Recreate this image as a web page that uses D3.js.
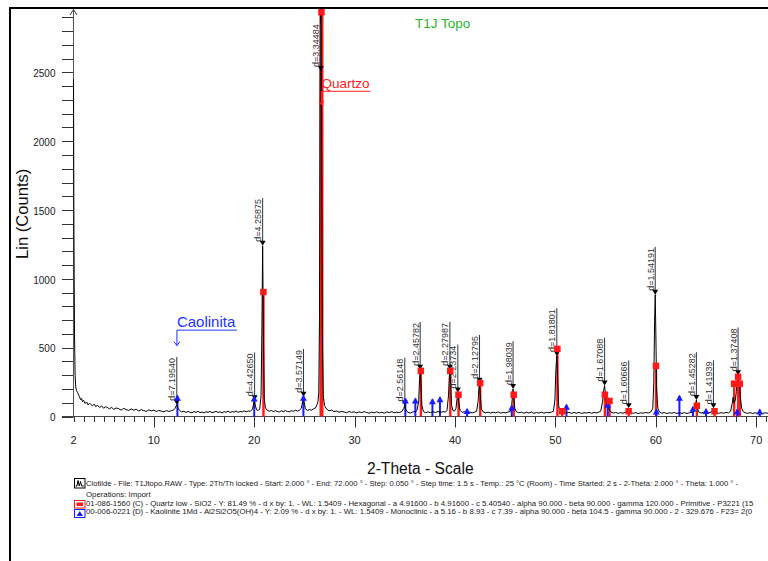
<!DOCTYPE html>
<html>
<head>
<meta charset="utf-8">
<script src="https://cdn.jsdelivr.net/npm/d3@7"></script>
<style>
  body { margin: 0; background: #fff; }
  svg { display: block; font-family: Arial, "Liberation Sans", sans-serif; }
</style>
</head>
<body>
<svg id="chart" width="768" height="561"></svg>
<script>
// ---- data (2-theta in degrees, counts) ----
const scanLowAngle = [
  [2.00, 2450], [2.04, 1400], [2.10, 600], [2.16, 300], [2.22, 215], [2.30, 188], [2.40, 176], [2.50, 158],
  [2.60, 145], [2.70, 122], [2.80, 131], [2.90, 108], [3.00, 118], [3.15, 95], [3.30, 106], [3.45, 84],
  [3.60, 97], [3.75, 86], [3.90, 78], [4.05, 90], [4.20, 72], [4.40, 81], [4.60, 66], [4.80, 77],
  [5.00, 60], [5.20, 71], [5.40, 64], [5.60, 55], [5.80, 67], [6.00, 51], [6.25, 62], [6.50, 56],
  [6.75, 47], [7.00, 59], [7.25, 50], [7.50, 44], [7.75, 55], [8.00, 46], [8.25, 52], [8.50, 40],
  [8.75, 50], [9.00, 43], [9.25, 37], [9.50, 48], [9.75, 41], [10.00, 46], [10.25, 36], [10.50, 44],
  [10.75, 39], [11.00, 34], [11.25, 43], [11.50, 37], [11.75, 42], [11.95, 46], [12.10, 58], [12.20, 75],
  [12.30, 84], [12.40, 62], [12.55, 45], [12.75, 34], [13.00, 38], [13.20, 29], [13.40, 37], [13.60, 31],
  [13.80, 27], [14.00, 36], [14.20, 30], [14.40, 38], [14.60, 28], [14.80, 33], [15.00, 26], [15.20, 35],
  [15.40, 30], [15.60, 37], [15.80, 27], [16.00, 32], [16.20, 38], [16.40, 29], [16.60, 34], [16.80, 26],
  [17.00, 35], [17.20, 31], [17.40, 39], [17.60, 29], [17.80, 36], [18.00, 32], [18.20, 40], [18.40, 30],
  [18.60, 37], [18.80, 33], [19.00, 41], [19.20, 34], [19.40, 40], [19.60, 38], [19.75, 46],
  [19.85, 60], [19.95, 95], [20.03, 115], [20.12, 75], [20.25, 48], [20.40, 44], [20.55, 55], [20.68, 150],
  [20.76, 600], [20.84, 1240], [20.92, 560], [21.00, 130], [21.12, 62], [21.30, 45], [21.50, 38], [21.70, 44],
  [21.90, 35], [22.10, 42], [22.30, 36], [22.50, 33], [22.70, 41], [22.90, 35], [23.10, 43], [23.30, 37],
  [23.50, 34], [23.70, 42], [23.90, 38], [24.10, 45], [24.30, 39], [24.50, 46], [24.70, 60], [24.82, 110],
  [24.90, 140], [24.98, 100], [25.10, 55], [25.30, 44], [25.50, 50], [25.70, 46], [25.90, 56], [26.10, 62],
  [26.25, 85], [26.35, 108], [26.43, 170]
]
const scanQuartzRegion = [
  [26.50, 700], [26.56, 2400], [26.63, 3400], [26.70, 2300], [26.78, 600], [26.88, 150], [27.00, 80],
  [27.20, 55], [27.45, 42], [27.70, 46], [27.95, 36], [28.20, 40], [28.45, 31], [28.70, 37], [28.95, 33],
  [29.20, 27], [29.45, 36], [29.70, 30], [29.95, 34], [30.20, 26], [30.45, 33], [30.70, 28], [30.95, 35],
  [31.20, 29], [31.45, 24], [31.70, 32], [31.95, 27], [32.20, 34], [32.45, 26], [32.70, 31], [32.95, 24],
  [33.20, 33], [33.45, 28], [33.70, 35], [33.95, 27], [34.20, 31], [34.45, 29], [34.70, 36], [34.90, 60],
  [35.00, 80], [35.10, 50], [35.30, 30], [35.55, 25], [35.80, 33], [36.05, 36], [36.22, 45], [36.38, 110],
  [36.46, 260], [36.53, 340], [36.60, 240], [36.70, 80], [36.85, 36], [37.05, 27], [37.30, 34], [37.55, 28],
  [37.80, 35], [38.05, 29], [38.30, 37], [38.55, 30], [38.80, 35], [39.05, 32], [39.20, 45], [39.35, 150],
  [39.43, 290], [39.49, 340], [39.56, 250], [39.66, 80], [39.80, 42], [39.95, 40], [40.10, 60], [40.20, 130],
  [40.28, 175], [40.36, 110], [40.50, 45], [40.70, 30], [40.95, 35], [41.20, 27], [41.45, 33], [41.70, 26],
  [41.95, 32], [42.15, 38], [42.30, 110], [42.38, 210], [42.44, 245], [42.52, 160], [42.62, 55], [42.80, 33],
  [43.05, 26], [43.30, 32], [43.55, 25], [43.80, 31], [44.05, 27], [44.30, 33], [44.55, 24], [44.80, 30],
  [45.05, 27], [45.30, 33], [45.50, 36], [45.65, 80], [45.73, 170], [45.78, 200], [45.86, 140], [45.95, 60],
  [46.10, 35], [46.35, 27], [46.60, 31], [46.85, 24], [47.10, 30], [47.35, 26], [47.60, 32], [47.85, 23]
]
const scanHighAngle = [
  [48.10, 29], [48.35, 25], [48.60, 31], [48.85, 24], [49.10, 30], [49.35, 27], [49.60, 32], [49.80, 38],
  [49.95, 120], [50.05, 350], [50.14, 440], [50.22, 300], [50.32, 80], [50.45, 40], [50.60, 55], [50.70, 45],
  [50.85, 33], [51.10, 26], [51.35, 30], [51.60, 23], [51.85, 29], [52.10, 24], [52.35, 30], [52.60, 22],
  [52.85, 28], [53.10, 25], [53.35, 30], [53.60, 23], [53.85, 29], [54.10, 26], [54.35, 33], [54.52, 40],
  [54.70, 110], [54.80, 190], [54.90, 225], [54.98, 160], [55.10, 95], [55.25, 80], [55.35, 55], [55.50, 34],
  [55.75, 25], [56.00, 29], [56.25, 23], [56.50, 28], [56.75, 24], [57.00, 31], [57.15, 45], [57.25, 60],
  [57.35, 45], [57.50, 29], [57.75, 23], [58.00, 28], [58.25, 22], [58.50, 27], [58.75, 24], [59.00, 29],
  [59.25, 25], [59.50, 33], [59.70, 60], [59.80, 250], [59.88, 700], [59.94, 885], [60.00, 620], [60.08, 200],
  [60.20, 60], [60.35, 33], [60.60, 24], [60.85, 28], [61.10, 22], [61.35, 27], [61.60, 24], [61.85, 29],
  [62.10, 22], [62.35, 27], [62.60, 23], [62.85, 28], [63.10, 22], [63.35, 27], [63.60, 30], [63.85, 40],
  [63.97, 95], [64.04, 120], [64.12, 80], [64.25, 34], [64.50, 25], [64.75, 29], [65.00, 23], [65.25, 28],
  [65.50, 31], [65.65, 45], [65.74, 60], [65.83, 42], [66.00, 29], [66.25, 23], [66.50, 28], [66.75, 24],
  [67.00, 29], [67.25, 27], [67.45, 38], [67.60, 90], [67.70, 140], [67.80, 100], [67.92, 120], [68.02, 180],
  [68.12, 260], [68.19, 300], [68.26, 250], [68.33, 230], [68.42, 140], [68.55, 60], [68.70, 36], [68.90, 27],
  [69.15, 23], [69.40, 28], [69.65, 22], [69.90, 27], [70.15, 23], [70.40, 29], [70.65, 22], [70.90, 27],
  [71.15, 24], [71.40, 28], [71.65, 22], [71.90, 27], [72.00, 25]
]

// 01-086-1560 quartz reference lines
const quartzTheta  = [20.86, 26.64, 36.54, 39.47, 40.29, 42.45, 45.79, 50.14, 50.62, 54.87, 55.33, 57.24, 59.96, 64.03, 65.79, 67.74, 68.14, 68.31]
const quartzCounts = [906, 2950, 333, 333, 160, 245, 160, 493, 40, 160, 115, 40, 370, 80, 40, 240, 290, 240]

// 00-006-0221 kaolinite reference lines
const kaoliniteTheta  = [12.35, 20.00, 24.90, 35.05, 36.05, 37.75, 38.50, 41.20, 45.65, 51.10, 55.20, 60.05, 62.35, 63.70, 65.00, 68.10, 70.35]
const kaoliniteCounts = [150, 145, 150, 130, 130, 125, 140, 55, 80, 85, 100, 50, 150, 70, 55, 50, 50]

// d-spacing peak labels
const dLabelText   = ["d=7.19540", "d=4.42650", "d=4.25875", "d=3.57149", "d=3.34484", "d=2.56148", "d=2.45782", "d=2.27987", "d=2.23734",
                      "d=2.12795", "d=1.98039", "d=1.81801", "d=1.67088", "d=1.60666", "d=1.54191", "d=1.45282", "d=1.41939", "d=1.37408"]
const dLabelTheta  = [12.29, 20.04, 20.84, 24.91, 26.63, 35.00, 36.53, 39.49, 40.28, 42.44, 45.78, 50.14, 54.90, 57.30, 59.94, 64.04, 65.74, 68.19]
const dLabelCounts = [85, 118, 1240, 143, 2510, 80, 340, 340, 175, 245, 200, 440, 225, 60, 885, 120, 60, 300]

const xTickLabels = [2, 10, 20, 30, 40, 50, 60, 70]
const yTickLabels = [0, 500, 1000, 1500, 2000, 2500]

// legend rows as far as they show inside the picture
const legendLines = [
  "Clotilde - File: T1Jtopo.RAW - Type: 2Th/Th locked - Start: 2.000 ° - End: 72.000 ° - Step: 0.050 ° - Step time: 1.5 s - Temp.: 25 °C (Room) - Time Started: 2 s - 2-Theta: 2.000 ° - Theta: 1.000 ° -",
  "Operations: Import",
  "01-086-1560 (C) - Quartz low - SiO2 - Y: 81.49 % - d x by: 1. - WL: 1.5409 - Hexagonal - a 4.91600 - b 4.91600 - c 5.40540 - alpha 90.000 - beta 90.000 - gamma 120.000 - Primitive - P3221 (15",
  "00-006-0221 (D) - Kaolinite 1Md - Al2Si2O5(OH)4 - Y: 2.09 % - d x by: 1. - WL: 1.5409 - Monoclinic - a 5.16 - b 8.93 - c 7.39 - alpha 90.000 - beta 104.5 - gamma 90.000 - 2 - 329.676 - F23=  2(0"
]
const legendWidths = [652, null, null, null]

// ---- scales ----
const svg = d3.select("#chart")
const x = d3.scaleLinear().domain([2, 72]).range([73.5, 776.3])
const y = d3.scaleLinear().domain([0, 2950]).range([416.5, 10.5])
const axisColor = "#333"

svg.append("defs").append("clipPath").attr("id", "plot-clip")
  .append("rect").attr("x", 73).attr("y", 9).attr("width", 700).attr("height", 409)

// frame
svg.append("line").attr("x1", 10).attr("x2", 768).attr("y1", 8).attr("y2", 8).attr("stroke", "#000").attr("stroke-width", 2)
svg.append("line").attr("x1", 10).attr("x2", 10).attr("y1", 7).attr("y2", 561).attr("stroke", "#000").attr("stroke-width", 2)

// ---- axes (labels from d3 axes, tick marks drawn from the same scales) ----
const xAxis = d3.axisBottom(x).tickValues(xTickLabels).tickSize(0).offset(0).tickFormat(d3.format("d"))
const gx = svg.append("g").attr("transform", `translate(0,${y(0)})`).call(xAxis)
gx.select(".domain").remove()
gx.selectAll(".tick text").attr("y", 19.5).attr("fill", "#222")
  .style("font-size", "11px").style("font-family", "Arial, 'Liberation Sans', sans-serif")

const yAxis = d3.axisLeft(y).tickValues(yTickLabels).tickSize(0).offset(0).tickFormat(d3.format("d"))
const gy = svg.append("g").attr("transform", `translate(${x(2)},0)`).call(yAxis)
gy.select(".domain").remove()
gy.selectAll(".tick text").attr("x", -18).attr("dy", "0.48em").attr("fill", "#222")
  .style("font-size", "10px").style("font-family", "Arial, 'Liberation Sans', sans-serif")

svg.append("g").selectAll("line").data(d3.range(2, 72, 1)).enter().append("line")
  .attr("x1", d => Math.round(x(d)) + 0.5).attr("x2", d => Math.round(x(d)) + 0.5)
  .attr("y1", y(0)).attr("y2", d => y(0) + (d % 10 === 0 ? 11 : 5.5))
  .attr("stroke", axisColor).attr("stroke-width", 1)

svg.append("g").selectAll("line").data(d3.range(0, 3000, 100)).enter().append("line")
  .attr("x1", 62).attr("x2", x(2))
  .attr("y1", d => Math.round(y(d)) + 0.5).attr("y2", d => Math.round(y(d)) + 0.5)
  .attr("stroke", axisColor).attr("stroke-width", 1)

svg.append("line").attr("x1", 62).attr("x2", 768).attr("y1", y(0)).attr("y2", y(0)).attr("stroke", "#444")
svg.append("line").attr("x1", x(2)).attr("x2", x(2)).attr("y1", y(0)).attr("y2", 10).attr("stroke", "#555")
svg.append("path").attr("d", `M${x(2) - 3.5},15 L${x(2)},9.5 L${x(2) + 3.5},15`).attr("fill", "none").attr("stroke", "#333")

svg.append("text").attr("x", 367).attr("y", 473.5).attr("font-size", 15.6).attr("fill", "#111").text("2-Theta - Scale")
svg.append("text").attr("transform", "translate(28,259) rotate(-90)").attr("font-size", 16.6).attr("fill", "#111").text("Lin (Counts)")

// ---- reference sticks (under the scan) ----
const plot = svg.append("g").attr("clip-path", "url(#plot-clip)")
const quartz = quartzTheta.map((t, i) => ({ t, c: quartzCounts[i] }))
const kaolinite = kaoliniteTheta.map((t, i) => ({ t, c: kaoliniteCounts[i] }))

plot.selectAll(".q-stick").data(quartz).enter().append("line")
  .attr("x1", d => x(d.t) + 0.6).attr("x2", d => x(d.t) + 0.6)
  .attr("y1", y(0)).attr("y2", d => y(d.c))
  .attr("stroke", "#ff1a1a").attr("stroke-width", d => d.c > 2000 ? 4 : 2.4)

plot.selectAll(".k-stick").data(kaolinite).enter().append("line")
  .attr("x1", d => x(d.t)).attr("x2", d => x(d.t))
  .attr("y1", y(0)).attr("y2", d => y(d.c))
  .attr("stroke", "#1a1aff").attr("stroke-width", 2)

// ---- scan ----
const scan = scanLowAngle.concat(scanQuartzRegion, scanHighAngle)
const line = d3.line().x(d => x(d[0])).y(d => y(d[1]))
plot.append("path").datum(scan).attr("d", line).attr("fill", "none").attr("stroke", "#000").attr("stroke-width", 1)

// d-spacing labels
const labels = dLabelText.map((s, i) => ({ s, t: dLabelTheta[i], c: dLabelCounts[i] }))
const lab = svg.selectAll(".dlab").data(labels).enter().append("g")
lab.append("text")
  .attr("transform", d => `translate(${x(d.t) - 1.5},${y(d.c) - 4}) rotate(-90)`)
  .attr("font-size", 9).attr("fill", "#333")
  .text(d => d.s)
lab.each(function (d) {
  const len = d3.select(this).select("text").node().getComputedTextLength()
  d3.select(this).insert("line", "text")
    .attr("x1", x(d.t)).attr("x2", x(d.t))
    .attr("y1", y(d.c) - 5 - len).attr("y2", y(d.c) - 4)
    .attr("stroke", "#333").attr("stroke-width", 1)
})
lab.append("path")
  .attr("d", d => `M${x(d.t) - 3},${y(d.c) - 5} L${x(d.t) + 3},${y(d.c) - 5} L${x(d.t)},${y(d.c)} Z`)
  .attr("fill", "#000")

// stick heads
svg.selectAll(".k-head").data(kaolinite).enter().append("path")
  .attr("d", d => `M${x(d.t) - 3.5},${y(d.c) + 5} L${x(d.t) + 3.5},${y(d.c) + 5} L${x(d.t)},${y(d.c) - 1} Z`)
  .attr("fill", "#1a1aff")

svg.selectAll(".q-head").data(quartz).enter().append("rect")
  .attr("x", d => x(d.t) - 2.7).attr("y", d => Math.max(9, y(d.c) - 3))
  .attr("width", 6.5).attr("height", 6.5)
  .attr("fill", "#ff1a1a")

// ---- annotations ----
const cx = x(12.3), cy = y(515)
svg.append("text").attr("x", cx).attr("y", cy - 19).attr("font-size", 15).attr("fill", "#2233ff").text("Caolinita")
svg.append("path").attr("d", `M${cx + 60},${cy - 15.5} L${cx},${cy - 15.5} L${cx},${cy}`).attr("fill", "none").attr("stroke", "#2233ff")
svg.append("path").attr("d", `M${cx - 3},${cy - 4} L${cx},${cy} L${cx + 3},${cy - 4}`).attr("fill", "none").attr("stroke", "#2233ff")

const qx = x(26.7), qy = y(2265)
svg.append("text").attr("x", qx).attr("y", qy - 17).attr("font-size", 13.5).attr("fill", "#ff2020").text("Quartzo")
svg.append("path").attr("d", `M${qx + 49},${qy - 13.5} L${qx},${qy - 13.5} L${qx},${qy}`).attr("fill", "none").attr("stroke", "#ff2020")
svg.append("path").attr("d", `M${qx - 2.5},${qy - 4} L${qx},${qy} L${qx + 2.5},${qy - 4}`).attr("fill", "none").attr("stroke", "#ff2020")

svg.append("text").attr("x", 415).attr("y", 28).attr("font-size", 13.5).attr("fill", "#2cb42c").text("T1J Topo")

// ---- legend ----
const legendY = [486, 497, 506, 513.5]
svg.selectAll(".legend-text").data(legendLines).enter().append("text")
  .attr("x", 86).attr("y", (d, i) => legendY[i])
  .attr("font-size", 7.8).attr("fill", "#222")
  .attr("textLength", (d, i) => legendWidths[i])
  .attr("lengthAdjust", "spacingAndGlyphs")
  .text(d => d)

svg.append("rect").attr("x", 74.5).attr("y", 478.5).attr("width", 10.5).attr("height", 9.5).attr("fill", "#fff").attr("stroke", "#000")
svg.append("path").attr("d", "M75.5,486 L77,486 L78,480.5 L79.3,486 L80.5,481.5 L81.7,486 L83.8,486").attr("fill", "none").attr("stroke", "#000")
svg.append("rect").attr("x", 74.5).attr("y", 500.5).attr("width", 10.5).attr("height", 7.5).attr("fill", "#fff").attr("stroke", "#ff1a1a")
svg.append("rect").attr("x", 76.5).attr("y", 502.5).attr("width", 6.5).attr("height", 3.5).attr("fill", "#ff1a1a")
svg.append("rect").attr("x", 74.5).attr("y", 509.5).attr("width", 10.5).attr("height", 8).attr("fill", "#fff").attr("stroke", "#1a1aff")
svg.append("path").attr("d", "M76.5,516 L83,516 L79.75,511 Z").attr("fill", "#1a1aff")
</script>
</body>
</html>
